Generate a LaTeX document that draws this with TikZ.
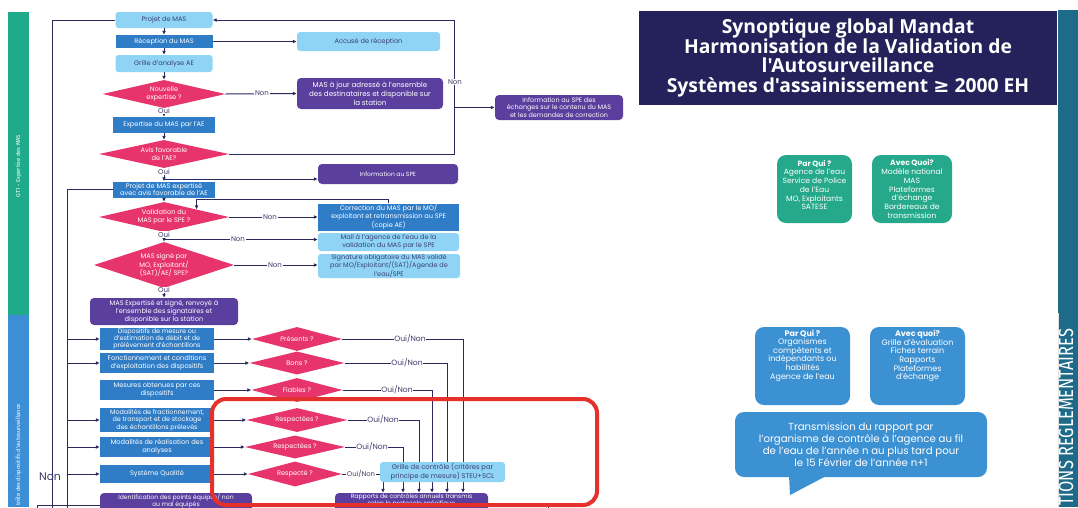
\documentclass[tikz,border=0pt]{standalone}
\usepackage{fontspec}
\setmainfont{Poppins}
\newfontfamily\titlefont{Open Sans}
\newfontfamily\symfont{DejaVu Sans}
\newfontfamily\stripfont{Fira Sans}
\newfontfamily\narrowfont[FakeStretch=0.8]{Fira Sans}
\usetikzlibrary{arrows.meta,shapes.geometric}
\definecolor{lblue}{HTML}{8FD4F5}
\definecolor{mblue}{HTML}{2F7CC7}
\definecolor{purp}{HTML}{5B3F9E}
\definecolor{pinkc}{HTML}{E8346C}
\definecolor{linec}{HTML}{2A2A5E}
\definecolor{labc}{HTML}{3E3C6C}
\definecolor{txtn}{HTML}{3A4070}
\definecolor{sgreen}{HTML}{1FAA8A}
\definecolor{sblue}{HTML}{3D8FD5}
\definecolor{steal}{HTML}{1D6B89}
\definecolor{tnavy}{HTML}{24215B}
\definecolor{gboxc}{HTML}{25A98A}
\definecolor{bboxc}{HTML}{3C91D3}
\definecolor{redf}{HTML}{E5312C}
\tikzset{
  base/.style={inner sep=0pt, align=center, font=\fontsize{6.6}{7.8}\selectfont},
  lb/.style={base, fill=lblue, text=txtn, rounded corners=3pt},
  mb/.style={base, fill=mblue, text=white},
  pb/.style={base, fill=purp, text=white, rounded corners=4pt},
  dia/.style={diamond, fill=pinkc, inner sep=0pt},
  dt/.style={base, text=white},
  lab/.style={inner sep=0.6pt, fill=white, text=labc, font=\fontsize{7}{8}\selectfont},
  onlab/.style={lab, font=\fontsize{7.6}{8}\selectfont},
  conn/.style={draw=linec, line width=1pt},
  arr/.style={conn, -{Latex[length=4pt,width=3.8pt]}},
  gbox/.style={fill=gboxc, rounded corners=9pt, inner sep=0pt},
  bbox/.style={fill=bboxc, rounded corners=9pt, inner sep=0pt},
  itext/.style={inner sep=0pt, align=center, text=white, font=\fontsize{7.6}{8.7}\selectfont},
  btm/.style={inner sep=0pt, align=center, anchor=north, text=white, font=\fontsize{6.1}{6.2}\selectfont},
}
\begin{document}
\begin{tikzpicture}[x=1pt,y=-1pt]
\useasboundingbox (0,0) rectangle (1078,507);
\clip (0,0) rectangle (1078,507);
\fill[white] (0,0) rectangle (1078,507);

% ---------- side strips ----------
\fill[sgreen] (8,12) rectangle (29,315);
\fill[sblue] (8,315) rectangle (29,507);
\node[rotate=90, inner sep=0pt, text=white, font=\stripfont\fontsize{5.8}{7}\selectfont] (gt1) at (18.5,166) {GT1 - Expertise des MAS};
\node[rotate=90, anchor=west, inner sep=0pt, text=white, font=\stripfont\fontsize{5.8}{7}\selectfont] (gt2) at (18.5,506) {trôle des dispositifs d'autosurveillance};
\fill[steal] (1058,10) rectangle (1078,507);
\draw[white!75!gray, line width=0.8pt] (1058.4,313) -- (1058.4,507);
\node[rotate=90, anchor=base west, inner sep=0pt, text=white, font=\narrowfont\fontsize{20.5}{22}\selectfont] (oblig) at (1073,506) {TIONS REGLEMENTAIRES};

% ---------- title ----------
\node[fill=tnavy, minimum width=418pt, minimum height=94pt, inner sep=0pt, align=center, text=white,
      font=\titlefont\bfseries\fontsize{19.3}{19.6}\selectfont] (title) at (848,58)
  {Synoptique global Mandat\\Harmonisation de la Validation de\\l'Autosurveillance\\Systèmes d'assainissement {\symfont\bfseries ≥} 2000 EH};

% ---------- info boxes ----------
\node[gbox, minimum width=75pt, minimum height=68pt] (pq1) at (814.5,189) {};
\node[itext] (pq1t) at (814.5,185) {\textbf{Par Qui ?}\\Agence de l'eau\\Service de Police\\de l'Eau\\MO, Exploitants\\SATESE};
\node[gbox, minimum width=80pt, minimum height=68pt] (aq1) at (912,189) {};
\node[itext] (aq1t) at (912,189) {\textbf{Avec Quoi?}\\Modèle national\\MAS\\Plateformes\\d'échange\\Bordereaux de\\transmission};
\node[bbox, minimum width=95pt, minimum height=78pt] (pq2) at (802.5,366) {};
\node[itext, font=\fontsize{8}{8.6}\selectfont] (pq2t) at (802.5,355.5) {\textbf{Par Qui ?}\\Organismes\\compétents et\\indépendants ou\\habilités\\Agence de l'eau};
\node[bbox, minimum width=95pt, minimum height=78pt] (aq2) at (917.5,366) {};
\node[itext, font=\fontsize{8}{8.6}\selectfont] (aq2t) at (917.5,356) {\textbf{Avec quoi?}\\Grille d'évaluation\\Fiches terrain\\Rapports\\Plateformes\\d'échange};
\fill[bboxc] (789,475) -- (828,475) -- (790,495) -- cycle;
\node[bbox, minimum width=252pt, minimum height=65pt, align=center, text=white, font=\fontsize{10.2}{12.2}\selectfont] (bub) at (861,444.5)
  {Transmission du rapport par\\l'organisme de contrôle à l'agence au fil\\de l'eau de l'année n au plus tard pour\\le 15 Février de l'année n+1};

% ---------- central column ----------
\node[lb, minimum width=97pt, minimum height=16pt] (projet) at (164,20) {Projet de MAS};
\node[mb, minimum width=97pt, minimum height=13pt] (recep) at (164,41.5) {Réception du MAS};
\node[lb, minimum width=97pt, minimum height=17pt] (grille) at (164,63.5) {Grille d'analyse AE};
\node[dia, minimum width=123pt, minimum height=28pt] (dnouv) at (164,94) {};
\node[dt] (dnouvt) at (dnouv) {Nouvelle\\expertise ?};
\node[mb, minimum width=102pt, minimum height=16pt] (expert) at (164,125) {Expertise du MAS par l'AE};
\node[dia, minimum width=130pt, minimum height=28pt] (davis) at (164,154) {};
\node[dt] (davist) at (davis) {Avis favorable\\de l'AE?};
\node[mb, minimum width=102pt, minimum height=16pt] (projexp) at (164,189.5) {Projet de MAS expertisé\\avec avis favorable de l'AE};
\node[dia, minimum width=130pt, minimum height=30pt] (dvalid) at (164,217) {};
\node[dt] (dvalidt) at (dvalid) {Validation du\\MAS par le SPE ?};
\node[dia, minimum width=140pt, minimum height=46pt] (dsigne) at (164,265) {};
\node[dt] (dsignet) at (dsigne) {MAS signé par\\MO, Exploitant/\\(SAT)/AE/ SPE?};
\node[pb, minimum width=148pt, minimum height=27pt] (masexp) at (164,311.5) {MAS Expertisé et signé, renvoyé à\\l'ensemble des signataires et\\disponible sur la station};

% ---------- right column ----------
\node[lb, minimum width=143pt, minimum height=19pt] (accuse) at (368.5,41.5) {Accusé de réception};
\node[pb, minimum width=146pt, minimum height=31pt, font=\fontsize{7.1}{8.8}\selectfont] (masjour) at (370,93.5) {MAS à jour adressé à l'ensemble\\des destinataires et disponible sur\\la station};
\node[pb, minimum width=128pt, minimum height=25pt, font=\fontsize{6.4}{7.8}\selectfont] (infospe) at (559,107.5) {Information au SPE des\\échanges sur le contenu du MAS\\et les demandes de correction};
\node[pb, minimum width=140pt, minimum height=20pt, font=\fontsize{6}{7}\selectfont] (infospe2) at (388,174) {Information au SPE};
\node[mb, minimum width=141pt, minimum height=27pt] (correc) at (388.5,217) {Correction du MAS par le MO/\\exploitant et retransmission au SPE\\(copie AE)};
\node[lb, minimum width=141pt, minimum height=18pt] (mail) at (388.5,242) {Mail à l'agence de l'eau de la\\validation du MAS par le SPE};
\node[lb, minimum width=142pt, minimum height=24pt, font=\fontsize{6.5}{7.6}\selectfont] (signat) at (389,266) {Signature obligatoire du MAS validé\\par MO/Exploitant/(SAT)/Agende de\\l'eau/SPE};

% ---------- lower section ----------
\node[mb, minimum width=114pt, minimum height=22pt, font=\fontsize{6.4}{7}\selectfont] (b1) at (157,339) {Dispositifs de mesure ou\\d'estimation de débit et de\\prélèvement d'échantillons};
\node[mb, minimum width=114pt, minimum height=20pt] (b2) at (157,363) {Fonctionnement et conditions\\d'exploitation des dispositifs};
\node[mb, minimum width=114pt, minimum height=20pt] (b3) at (157,390) {Mesures obtenues par ces\\dispositifs};
\node[mb, minimum width=114pt, minimum height=24pt, font=\fontsize{6.4}{7.6}\selectfont] (b4) at (157,420) {Modalités de fractionnement,\\de transport et de stockage\\des échantillons prélevés};
\node[mb, minimum width=114pt, minimum height=20pt] (b5) at (157,447) {Modalités de réalisation des\\analyses};
\node[mb, minimum width=114pt, minimum height=18pt] (b6) at (157,474) {Système Qualité};
\node[pb, minimum width=152pt, minimum height=24pt] (ident) at (176,505) {};
\node[btm] (identt) at (176,493.4) {Identification des points équipés/ non\\ou mal équipés};

\node[dia, minimum width=90pt, minimum height=24pt] (p1) at (297,339) {};
\node[dt] (p1t) at (p1) {Présents ?};
\node[dia, minimum width=95pt, minimum height=23pt] (p2) at (297,363) {};
\node[dt] (p2t) at (p2) {Bons ?};
\node[dia, minimum width=91pt, minimum height=24pt] (p3) at (297,390) {};
\node[dt] (p3t) at (p3) {Fiables ?};
\node[dia, minimum width=101pt, minimum height=24pt] (p4) at (297,420) {};
\node[dt] (p4t) at (p4) {Respectées ?};
\node[dia, minimum width=100pt, minimum height=23pt] (p5) at (295,447) {};
\node[dt] (p5t) at (p5) {Respectées ?};
\node[dia, minimum width=94pt, minimum height=25pt] (p6) at (295,474) {};
\node[dt] (p6t) at (p6) {Respecté ?};

\node[pb, minimum width=153pt, minimum height=24pt] (rap) at (411.5,505) {};
\node[btm] (rapt) at (411.5,493.4) {Rapports de contrôles annuels transmis\\selon le protocole spécifique};

% ---------- coordinates ----------
\coordinate (lbot) at (454,154);
\coordinate (ltop) at (454,20);
\coordinate (jr) at (454,107.5);
\coordinate (j1) at (164,179);
\coordinate (j2) at (164,239.5);
\coordinate (L0) at (37,520);
\coordinate (L1) at (52,520);
\coordinate (L2) at (67,520);
\coordinate (LR) at (548,520);
\coordinate (v1) at (463,339);
\coordinate (v2) at (447,363);
\coordinate (v3) at (432,390);
\coordinate (v4) at (419,420);
\coordinate (v5) at (403,447);
\coordinate (v6) at (383,474);

% ---------- connectors ----------
\draw[arr] (projet.south) -- (recep.north);
\draw[arr] (recep.south) -- (grille.north);
\draw[arr] (grille.south) -- (dnouv.north);
\draw[arr] (dnouv.south) -- (expert.north);
\draw[arr] (expert.south) -- (davis.north);
\draw[arr] (davis.south) -- (projexp.north);
\draw[arr] (projexp.south) -- (dvalid.north);
\draw[arr] (dvalid.south) -- (dsigne.north);
\draw[arr] (dsigne.south) -- (masexp.north);

\draw[arr] (recep.east) -- (accuse.west);
\draw[arr] (dnouv.east) -- (masjour.west);
\draw[arr] (davis.east) -- (lbot) -- (ltop) -- (projet.east);
\draw[arr] (jr) -- (infospe.west);
\draw[arr] (j1) -- (j1 -| infospe2.west);
\draw[arr] (correc.north) -- ++(0,-4) -| (dvalid.north east);
\draw[arr] (dvalid.east) -- (correc.west);
\draw[arr] (j2) -- (j2 -| mail.west);
\draw[arr] (dsigne.east) -- (dsigne.east -| signat.west);

\draw[conn] (projet.west) -| (L1);
\draw[conn] (projexp.west) -| (L2);
\draw[conn] (ident.west) -| (L0);
\foreach \b in {b1,b2,b4,b5,b6} { \draw[arr] (\b.west -| L2) -- (\b.west); }
\foreach \b/\p in {b1/p1,b2/p2,b3/p3,b4/p4,b5/p5,b6/p6} { \draw[arr] (\b.east) -- (\p.west); }
\foreach \p/\v in {p1/v1,p2/v2,p3/v3,p4/v4,p5/v5,p6/v6} { \draw[arr] (\p.east) -- (\v) -- (\v |- rap.north); }
\draw[arr] (rap.west) -- (ident.east);
\draw[conn] (rap.east) -| (LR);

% grid box drawn over the vertical lines
\node[lb, minimum width=125pt, minimum height=20pt, font=\fontsize{6.8}{8}\selectfont] (grillec) at (442.5,472) {Grille de contrôle (critères par\\principe de mesure) STEU+SCL};

% ---------- labels ----------
\node[lab] (o1) at (164,111) {Oui};
\node[lab] (o2) at (164,171.5) {Oui};
\node[lab] (o3) at (164,234.5) {Oui};
\node[lab] (o4) at (164,290) {Oui};
\node[lab] (n1) at (262,93.5) {Non};
\node[lab] (n2) at (455,82) {Non};
\node[lab] (n3) at (270,217) {Non};
\node[lab] (n4) at (238,239.5) {Non};
\node[lab] (n5) at (275,265) {Non};
\node[lab, fill=none, font=\fontsize{11}{12}\selectfont] (n6) at (50,477) {Non};
\node[onlab] (on1) at (410,339) {Oui/Non};
\node[onlab] (on2) at (407,363) {Oui/Non};
\node[onlab] (on3) at (397,390) {Oui/Non};
\node[onlab] (on4) at (383,420) {Oui/Non};
\node[onlab] (on5) at (372,447) {Oui/Non};
\node[onlab, font=\fontsize{6.8}{8}\selectfont] (on6) at (361,474) {Oui/Non};

% ---------- red frame ----------
\draw[redf, line width=4pt, rounded corners=14pt] (212,399) rectangle (597,505);
\end{tikzpicture}
\end{document}
